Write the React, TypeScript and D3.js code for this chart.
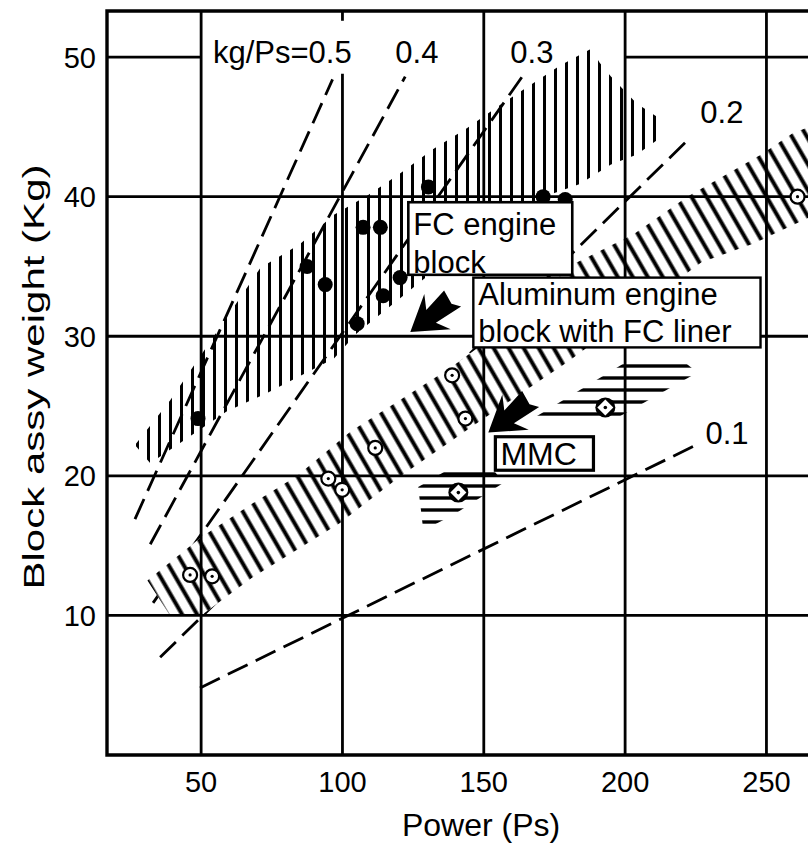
import React from 'react';
import * as d3 from 'd3';

const W = 808;
const H = 845;
const FONT = "'Liberation Sans', Arial, Helvetica, sans-serif";

// axes
const xTicks = [50, 100, 150, 200, 250];
const yTicks = [10, 20, 30, 40, 50];

// kg/Ps reference lines, as drawn on the original (start / end points)
const ratioLabels = ['kg/Ps=0.5', '0.4', '0.3', '0.2', '0.1'];
const ratioStart = [[26.6, 16.9], [32, 15.1], [33, 10.9], [35.5, 7], [49.6, 4.8]];
const ratioEnd = [[96.5, 48.4], [122.2, 48.6], [163.6, 48.6], [222.4, 44.1], [224, 22.1]];
const ratioLabelAt = [[54.2, 49.6], [118.7, 49.6], [159.4, 49.6], [226.6, 45.3], [228.4, 22.3]];

// FC engine block band (upper edge left->right, lower edge right->left)
const fcUpper = [[26.6, 22.2], [39, 25.4], [71, 34.9], [85, 36.6], [97, 38.7], [109, 40.1], [120, 41.6],
  [132, 43.4], [144, 44.9], [156, 46.6], [177, 49.4], [188, 50.6], [191, 49.6], [195, 48.6], [204, 46.7], [213, 45.5]];
const fcLower = [[213, 44.3], [204, 43], [195, 42.3], [184, 40.9], [170, 39.9], [150, 37.5], [130, 34.3],
  [105, 30.2], [97, 28.4], [73, 25.9], [59, 24.6], [32, 20.9]];

// aluminum block with FC liner band
const alUpper = [[31, 12.5], [50, 15.6], [68, 18], [84, 20], [103, 23.2], [138, 27.7], [148, 29.2],
  [182, 35.2], [203, 37.3], [222, 40], [248, 43], [259, 44.5], [265, 45]];
const alLower = [[265, 38.5], [245, 36.6], [227, 35.3], [180, 28.2], [147, 23.7], [120, 19.9], [99, 16.6],
  [68, 12.7], [50, 10], [39, 10]];

// MMC band (two pieces)
const mmcUpperPiece = [[166.5, 24], [200.8, 28.2], [220.6, 28.2], [225.6, 27.4], [195.8, 24]];
const mmcLowerPiece = [[126.8, 19.2], [137, 20.4], [152.3, 20.7], [157, 19.5], [139.2, 17.2], [128.6, 16.1]];

// data points
const fcPower = [48.9, 87.5, 93.9, 107.3, 113.4, 105.2, 114.4, 120.4, 130.4, 171, 178.8];
const fcWeight = [24.1, 35, 33.7, 37.8, 37.8, 30.9, 32.9, 34.2, 40.7, 40, 39.8];
const alPower = [46.1, 53.9, 95, 99.9, 111.6, 138.8, 143.5, 261];
const alWeight = [12.9, 12.8, 19.8, 19, 22, 27.2, 24.1, 40];
const mmcPower = [141, 193];
const mmcWeight = [18.8, 24.9];

// annotation boxes [x0, y0, x1, y1] and their text
const fcBox = [123.3, 39.6, 181.3, 34.4];
const fcText = ['FC engine', 'block'];
const alBox = [146.3, 34.2, 247.9, 29.2];
const alText = ['Aluminum engine', 'block with FC liner'];
const mmcBox = [154.1, 22.8, 188.8, 20.4];
const mmcText = ['MMC'];
const arrowTips = [[124, 30.3], [151.6, 23.1]];

const x = d3.scaleLinear().domain([16.7, 264.7]).range([107, 808]);
const y = d3.scaleLinear().domain([0, 53.3]).range([755, 11]);

const poly = d3.line<number[]>().x(d => x(d[0])).y(d => y(d[1]));
const area = (pts: number[][]) => poly(pts) + 'Z';

// arrowhead pointing down-left toward the band
function arrowPath(tx: number, ty: number) {
  const u = [0.8, -0.6];
  const v = [0.6, 0.8];
  const shape = [[0, 0], [34, -22], [26, -8], [52, -13], [50, 2], [56, 10], [26, 8], [34, 22]];
  const pts = shape.map(([a, b]) => [tx + a * u[0] + b * v[0], ty + a * u[1] + b * v[1]]);
  return 'M' + pts.map(p => p.join(',')).join('L') + 'Z';
}

const Box = ({ box, lines, dy, fs, sw }: { box: number[]; lines: string[]; dy: number[]; fs: number; sw: number }) => (
  <g>
    <rect x={x(box[0])} y={y(box[1])} width={x(box[2]) - x(box[0])} height={y(box[3]) - y(box[1])}
      fill="#fff" stroke="#000" strokeWidth={sw} />
    {lines.map((t, i) => (
      <text key={i} x={x(box[0]) + 5} y={y(box[1]) + dy[i]} fontSize={fs} fontFamily={FONT} fill="#000">{t}</text>
    ))}
  </g>
);

export default function App() {
  const x0 = x.domain()[0], x1 = x.domain()[1];
  const yTop = y.domain()[1];

  return (
    <svg width={W} height={H} style={{ position: 'absolute', left: 0, top: 0, background: '#fff' }}>
      <defs>
        <pattern id="hatchV" patternUnits="userSpaceOnUse" width="11" height="11">
          <line x1="5.5" y1="0" x2="5.5" y2="11" stroke="#000" strokeWidth="3" />
        </pattern>
        <pattern id="hatchD" patternUnits="userSpaceOnUse" width="13" height="13" patternTransform="rotate(-30)">
          <line x1="6.5" y1="0" x2="6.5" y2="13" stroke="#000" strokeWidth="4" />
        </pattern>
        <pattern id="hatchH" patternUnits="userSpaceOnUse" width="12" height="12">
          <line x1="0" y1="6" x2="12" y2="6" stroke="#000" strokeWidth="3.4" />
        </pattern>
      </defs>

      {/* kg/Ps reference lines */}
      {ratioStart.map((s, i) => (
        <line key={i} x1={x(s[0])} y1={y(s[1])} x2={x(ratioEnd[i][0])} y2={y(ratioEnd[i][1])}
          stroke="#000" strokeWidth={2.8} strokeDasharray="22 9" />
      ))}

      {/* band backgrounds hide the dashed lines behind them */}
      <path d={area(alUpper.concat(alLower))} fill="#fff" />
      <path d={area(mmcUpperPiece)} fill="#fff" />
      <path d={area(mmcLowerPiece)} fill="#fff" />

      {/* grid */}
      {xTicks.map(t => t === 100 ? (
        <g key={t}>
          <line x1={x(t)} x2={x(t)} y1={y(0)} y2={y(48.8)} stroke="#000" strokeWidth={2.8} />
          <line x1={x(t)} x2={x(t)} y1={y(52.6)} y2={y(yTop)} stroke="#000" strokeWidth={2.8} />
        </g>
      ) : (
        <line key={t} x1={x(t)} x2={x(t)} y1={y(0)} y2={y(yTop)} stroke="#000" strokeWidth={2.8} />
      ))}
      {yTicks.map(t => t === 50 ? (
        <g key={t}>
          <line x1={x(x0)} x2={x(50)} y1={y(t)} y2={y(t)} stroke="#000" strokeWidth={2.8} />
          <line x1={x(200)} x2={x(x1)} y1={y(t)} y2={y(t)} stroke="#000" strokeWidth={2.8} />
        </g>
      ) : (
        <line key={t} x1={x(x0)} x2={x(x1)} y1={y(t)} y2={y(t)} stroke="#000" strokeWidth={2.8} />
      ))}

      {/* frame */}
      <path d={`M${x(x1)},${y(yTop)}L${x(x0)},${y(yTop)}L${x(x0)},${y(0)}L${x(x1)},${y(0)}`}
        fill="none" stroke="#000" strokeWidth={3.4} />

      {/* hatched bands */}
      <path d={area(fcUpper.concat(fcLower))} fill="url(#hatchV)" />
      <path d={area(alUpper.concat(alLower))} fill="url(#hatchD)" />
      <path d={area(mmcUpperPiece)} fill="url(#hatchH)" />
      <path d={area(mmcLowerPiece)} fill="url(#hatchH)" />

      {/* points */}
      {fcPower.map((p, i) => (
        <circle key={'fc' + i} cx={x(p)} cy={y(fcWeight[i])} r={7.5} fill="#000" />
      ))}
      {alPower.map((p, i) => (
        <g key={'al' + i}>
          <circle cx={x(p)} cy={y(alWeight[i])} r={7} fill="#fff" stroke="#000" strokeWidth={2.2} />
          <circle cx={x(p)} cy={y(alWeight[i])} r={1.6} fill="#000" />
        </g>
      ))}
      {mmcPower.map((p, i) => {
        const cx = x(p), cy = y(mmcWeight[i]);
        return (
          <g key={'mmc' + i}>
            <circle cx={cx} cy={cy} r={10} fill="#000" />
            <path d={`M${cx},${cy - 8}L${cx + 8},${cy}L${cx},${cy + 8}L${cx - 8},${cy}Z`} fill="#fff" />
            <circle cx={cx} cy={cy} r={1.8} fill="#000" />
          </g>
        );
      })}

      {/* annotations */}
      <Box box={fcBox} lines={fcText} dy={[33, 71]} fs={31} sw={2.6} />
      <Box box={alBox} lines={alText} dy={[27, 64]} fs={31} sw={2.4} />
      <Box box={mmcBox} lines={mmcText} dy={[28]} fs={32} sw={3.2} />
      {arrowTips.map((a, i) => (
        <path key={i} d={arrowPath(x(a[0]), y(a[1]))} fill="#000" />
      ))}

      {ratioLabels.map((t, i) => (
        <text key={t} x={x(ratioLabelAt[i][0])} y={y(ratioLabelAt[i][1])} fontSize={31} fontFamily={FONT}>{t}</text>
      ))}

      {/* axis labels */}
      {xTicks.map(t => (
        <text key={t} x={x(t)} y={792} textAnchor="middle" fontSize={29} fontFamily={FONT}>{t}</text>
      ))}
      {yTicks.map(t => (
        <text key={t} x={96} y={y(t) + 10.5} textAnchor="end" fontSize={29} fontFamily={FONT}>{t}</text>
      ))}
      <text x={481} y={836} textAnchor="middle" fontSize={32} fontFamily={FONT}>Power (Ps)</text>
      <text transform="translate(44,377) rotate(-90)" textAnchor="middle" fontSize={30} fontFamily={FONT}
        textLength={425} lengthAdjust="spacingAndGlyphs">Block assy weight (Kg)</text>
    </svg>
  );
}
